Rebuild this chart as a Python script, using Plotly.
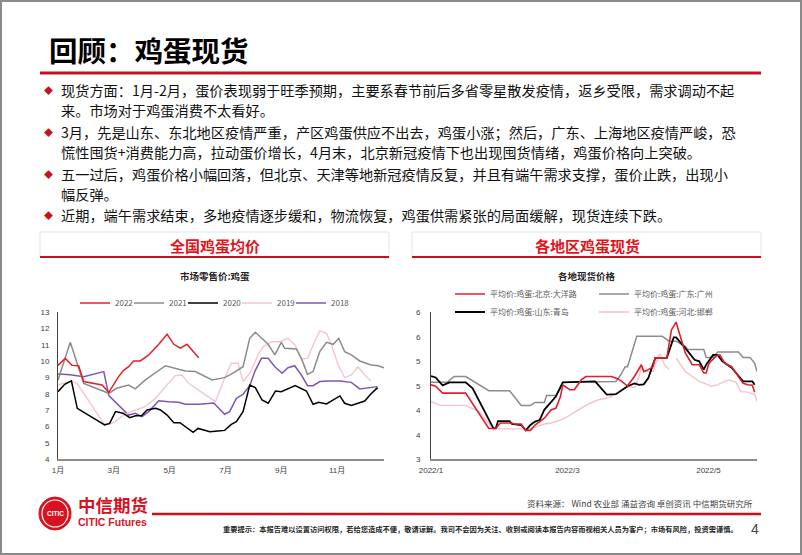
import plotly.graph_objects as go

W, H = 802, 555


def px(x):
    return x / W


def py(y):
    return 1 - y / H


# ---------------- Left chart: 市场零售价:鸡蛋 (x = month position, 1 = 1月初) ----------------
m2022 = [1.00, 1.26, 1.50, 1.74, 1.92, 2.58, 2.82, 3.05, 3.17, 3.35, 3.53, 3.71, 3.95, 4.25, 4.61, 4.91, 5.15, 5.38, 5.62, 6.04]
v2022 = [9.75, 10.18, 9.75, 9.73, 8.76, 8.55, 8.10, 8.76, 9.06, 9.45, 9.67, 10.02, 10.02, 10.39, 11.04, 11.65, 11.04, 10.80, 11.04, 10.22]

m2021 = [1.00, 1.44, 1.92, 2.82, 3.10, 3.53, 3.77, 4.13, 4.85, 5.10, 5.56, 5.92, 6.52, 6.97, 7.27, 7.63, 7.87, 8.07, 8.53, 8.77,
         9.00, 9.12, 9.54, 9.72, 9.94, 10.14, 10.38, 10.62, 10.86, 11.06, 11.27, 11.51, 11.81, 12.22, 12.47, 12.68]
v2021 = [8.86, 11.16, 8.65, 8.04, 8.35, 8.55, 8.31, 8.86, 9.73, 9.61, 9.41, 9.37, 8.86, 9.00, 9.27, 9.67, 11.41, 11.78, 11.04, 10.39,
         11.16, 10.80, 10.76, 10.18, 9.20, 9.37, 10.60, 11.16, 11.04, 11.41, 10.59, 10.39, 10.02, 9.78, 9.73, 9.61]

m2020 = [1.00, 1.24, 1.48, 1.69, 2.67, 2.85, 3.06, 3.33, 3.57, 3.78, 3.99, 4.19, 4.50, 4.67, 4.91, 5.15, 5.37, 5.60, 5.84, 6.02,
         6.44, 6.73, 6.97, 7.21, 7.39, 7.63, 7.87, 8.07, 8.31, 8.53, 8.79, 9.00, 9.50, 9.90, 10.14, 10.34, 10.62, 11.10, 11.27,
         11.51, 11.99, 12.20, 12.45]
v2020 = [8.14, 8.59, 8.80, 7.12, 6.10, 6.20, 6.92, 6.82, 6.55, 6.67, 6.67, 7.02, 7.12, 7.02, 6.71, 6.24, 6.24, 5.93, 5.65, 5.89,
         5.69, 5.73, 5.77, 6.14, 6.31, 6.92, 8.55, 8.39, 7.63, 7.43, 8.18, 8.14, 8.51, 8.18, 7.37, 7.49, 7.39, 7.88, 7.43,
         7.29, 7.57, 7.98, 8.39]

m2019 = [1.00, 1.44, 1.68, 2.64, 2.82, 3.05, 3.35, 3.77, 4.13, 4.49, 4.85, 5.20, 5.44, 5.68, 6.04, 6.40, 6.64, 6.97, 7.21, 7.45,
         7.63, 7.87, 8.17, 8.35, 8.65, 8.94, 9.24, 9.49, 9.72, 9.94, 10.14, 10.38, 10.62, 10.80, 11.04, 11.27, 11.51, 11.75,
         11.99, 12.21]
v2019 = [8.55, 8.80, 8.65, 6.20, 6.14, 6.31, 6.71, 7.02, 7.22, 7.73, 8.45, 9.12, 9.16, 8.65, 8.24, 7.84, 7.53, 8.96, 9.88, 9.88,
         8.76, 9.27, 10.39, 10.90, 11.20, 11.20, 11.41, 11.00, 10.14, 10.18, 11.00, 11.86, 11.71, 11.00, 9.78, 9.00, 9.16, 9.67,
         9.16, 8.80]

m2018 = [1.00, 1.44, 1.92, 2.64, 2.82, 3.17, 3.53, 3.77, 4.01, 4.25, 4.61, 4.97, 5.32, 5.56, 6.04, 6.58, 6.97, 7.15, 7.39, 7.63,
         7.87, 8.05, 8.29, 8.53, 8.77, 9.03, 9.24, 9.48, 9.72, 9.94, 10.14, 10.38, 10.68, 11.10, 11.51, 11.81, 12.22, 12.45]
v2018 = [9.22, 9.18, 9.06, 9.37, 7.90, 7.33, 6.71, 6.82, 6.61, 6.92, 7.59, 7.53, 7.49, 7.37, 7.37, 7.45, 6.76, 6.92, 7.73, 7.98,
         8.51, 9.37, 10.18, 10.18, 9.67, 9.27, 9.61, 9.73, 9.16, 8.51, 8.51, 8.76, 8.80, 8.80, 8.71, 8.31, 8.39, 8.45]

left_tickvals = [1, 3, 5, 7, 9, 11]
left_ticktext = ["1月", "3月", "5月", "7月", "9月", "11月"]

# ---------------- Right chart: 各地现货价格 ----------------
bj_dates = ["2022-01-01", "2022-01-03", "2022-01-06", "2022-01-16", "2022-01-26", "2022-01-29", "2022-01-31", "2022-02-05",
            "2022-02-06", "2022-02-09", "2022-02-11", "2022-02-13", "2022-02-15", "2022-02-19", "2022-02-22", "2022-02-24",
            "2022-02-26", "2022-02-27", "2022-03-02", "2022-03-04", "2022-03-07", "2022-03-09", "2022-03-20", "2022-03-23",
            "2022-03-27", "2022-03-30", "2022-04-02", "2022-04-03", "2022-04-05", "2022-04-07", "2022-04-08", "2022-04-13",
            "2022-04-15", "2022-04-17", "2022-04-18", "2022-04-21", "2022-04-24", "2022-04-27", "2022-04-29", "2022-04-30",
            "2022-05-01", "2022-05-02", "2022-05-05", "2022-05-06", "2022-05-08", "2022-05-11", "2022-05-16", "2022-05-18",
            "2022-05-20", "2022-05-21"]
bj_vals = [4.52, 4.49, 4.35, 4.35, 3.63, 3.63, 3.74, 3.74, 3.72, 3.72, 3.59, 3.59, 3.70, 3.84, 4.01, 4.04, 4.28, 4.52, 4.42, 4.42,
           4.62, 4.69, 4.69, 4.64, 4.50, 4.69, 4.93, 4.79, 4.83, 4.89, 5.07, 5.07, 5.64, 5.80, 5.64, 5.17, 4.93, 4.93, 4.76, 4.76,
           4.93, 5.00, 5.13, 5.13, 4.96, 4.89, 4.55, 4.52, 4.51, 4.37]

gz_dates = ["2022-01-01", "2022-01-08", "2022-01-11", "2022-01-16", "2022-01-26", "2022-02-04", "2022-02-09", "2022-02-13",
            "2022-02-15", "2022-02-19", "2022-02-20", "2022-02-24", "2022-02-27", "2022-03-22", "2022-03-24", "2022-03-26",
            "2022-03-27", "2022-03-31", "2022-04-11", "2022-04-14", "2022-04-17", "2022-04-21", "2022-04-22", "2022-04-29",
            "2022-04-30", "2022-05-03", "2022-05-05", "2022-05-14", "2022-05-16", "2022-05-19", "2022-05-21", "2022-05-22"]
gz_vals = [4.57, 4.57, 4.69, 4.69, 4.40, 4.40, 4.10, 4.10, 4.16, 4.16, 4.30, 4.30, 4.57, 4.59, 4.72, 4.89, 4.89, 5.51, 5.51, 5.41,
           5.41, 5.30, 5.24, 5.24, 5.08, 5.08, 5.19, 5.19, 5.08, 5.08, 4.96, 4.79]

qd_dates = ["2022-01-01", "2022-01-03", "2022-01-06", "2022-01-09", "2022-01-16", "2022-01-19", "2022-01-28", "2022-01-29",
            "2022-01-30", "2022-02-04", "2022-02-05", "2022-02-09", "2022-02-11", "2022-02-13", "2022-02-15", "2022-02-17",
            "2022-02-19", "2022-02-22", "2022-02-24", "2022-02-26", "2022-02-27", "2022-03-13", "2022-03-18", "2022-03-22",
            "2022-03-27", "2022-03-30", "2022-04-01", "2022-04-03", "2022-04-05", "2022-04-08", "2022-04-13", "2022-04-16",
            "2022-04-17", "2022-04-21", "2022-04-25", "2022-04-27", "2022-04-29", "2022-04-30", "2022-05-03", "2022-05-05",
            "2022-05-07", "2022-05-11", "2022-05-16", "2022-05-20", "2022-05-21"]
qd_vals = [4.70, 4.67, 4.51, 4.57, 4.57, 4.45, 3.63, 3.63, 3.78, 3.78, 3.72, 3.70, 3.59, 3.70, 3.77, 3.80, 4.01, 4.18, 4.28, 4.47,
           4.57, 4.59, 4.32, 4.33, 4.49, 4.55, 4.52, 4.53, 4.66, 5.07, 5.07, 5.49, 5.49, 5.27, 5.03, 5.00, 4.83, 4.93, 5.13, 5.13,
           5.00, 4.87, 4.59, 4.59, 4.52]

hd_dates = ["2022-01-01", "2022-01-05", "2022-01-16", "2022-01-22", "2022-01-27", "2022-01-30", "2022-02-09", "2022-02-11",
            "2022-02-15", "2022-02-19", "2022-02-22", "2022-02-26", "2022-03-01", "2022-03-05", "2022-03-09", "2022-03-14",
            "2022-03-19", "2022-03-23", "2022-03-27", "2022-03-30", "2022-04-01", "2022-04-02", "2022-04-03", "2022-04-07",
            "2022-04-09", "2022-04-10", "2022-04-12", "2022-04-14", "2022-04-15", "2022-04-17", "2022-04-21", "2022-04-24",
            "2022-04-27", "2022-05-01", "2022-05-02", "2022-05-05", "2022-05-07", "2022-05-10", "2022-05-13", "2022-05-15",
            "2022-05-18", "2022-05-21", "2022-05-22"]
hd_vals = [4.18, 4.10, 4.10, 3.97, 3.67, 3.62, 3.62, 3.60, 3.65, 3.72, 3.74, 3.80, 3.87, 3.99, 4.10, 4.21, 4.26, 4.37, 4.49, 4.46,
           4.69, 4.89, 4.79, 4.79, 5.07, 5.15, 4.93, 4.83, None, 5.07, 4.79, 4.69, 4.59, 4.52, 4.49, 4.52, 4.57, 4.62, 4.57, 4.38,
           4.37, 4.32, 4.18]

right_tickvals = [3.0, 3.5, 4.0, 4.5, 5.0, 5.5, 6.0]
right_ticktext = ["3", "4", "4", "5", "5", "6", "6"]
right_xtickvals = ["2022-01-01", "2022-03-01", "2022-05-01"]
right_xticktext = ["2022/1", "2022/3", "2022/5"]

CJK = "Noto Sans CJK SC"
RED = "#C8101E"

fig = go.Figure()

left_series = [
    ("2018", m2018, v2018, "#7E57B4", 1.5, 5, 22),
    ("2019", m2019, v2019, "#F4C6CD", 1.4, 4, None),
    ("2020", m2020, v2020, "#000000", 1.5, 3, None),
    ("2021", m2021, v2021, "#8C8C8C", 1.5, 2, None),
    ("2022", m2022, v2022, "#E3212B", 1.5, 1, None),
]
for name, xs, ys, col, lw, rank, lwid in left_series:
    kw = {}
    if lwid:
        kw["legendwidth"] = lwid
    fig.add_trace(go.Scatter(x=xs, y=ys, name=name, mode="lines", line=dict(color=col, width=lw),
                             xaxis="x", yaxis="y", legend="legend", legendrank=rank, hoverinfo="skip", **kw))

right_series = [
    ("平均价:鸡蛋:河北:邯郸", hd_dates, hd_vals, "#F2C3C8", 1.4, "legend3", 4),
    ("平均价:鸡蛋:广东:广州", gz_dates, gz_vals, "#8C8C8C", 1.5, "legend2", 2),
    ("平均价:鸡蛋:山东:青岛", qd_dates, qd_vals, "#000000", 1.8, "legend3", 3),
    ("平均价:鸡蛋:北京:大洋路", bj_dates, bj_vals, "#DC2030", 1.6, "legend2", 1),
]
for name, xs, ys, col, lw, lg, rank in right_series:
    fig.add_trace(go.Scatter(x=xs, y=ys, name=name, mode="lines", line=dict(color=col, width=lw),
                             xaxis="x2", yaxis="y2", legend=lg, legendrank=rank, hoverinfo="skip",
                             connectgaps=False))

tickfont = dict(size=8, color="#404040", family="Liberation Sans, " + CJK)
legfont = dict(size=8, color="#595959", family=CJK)

fig.update_layout(
    width=W, height=H,
    margin=dict(l=0, r=0, t=0, b=0, autoexpand=False),
    paper_bgcolor="white", plot_bgcolor="rgba(0,0,0,0)",
    font=dict(family=CJK, color="#000000"),
    showlegend=True,
    xaxis=dict(domain=[px(58), px(384)], range=[1, 12.68], tickvals=left_tickvals, ticktext=left_ticktext,
               showline=True, linecolor="#8C8C8C", linewidth=2, showgrid=False, zeroline=False, ticks="",
               tickfont=tickfont, anchor="y", ticklabelstandoff=2),
    yaxis=dict(domain=[py(459.3), py(312.3)], range=[4, 13], tick0=4, dtick=1,
               showline=True, linecolor="#404040", linewidth=1, showgrid=False, zeroline=False, ticks="",
               tickfont=tickfont, anchor="x", ticklabelstandoff=6),
    xaxis2=dict(domain=[px(431), px(757)], type="date", range=["2022-01-01", "2022-05-22"],
                tickvals=right_xtickvals, ticktext=right_xticktext,
                showline=True, linecolor="#8C8C8C", linewidth=2, showgrid=False, zeroline=False, ticks="",
                tickfont=tickfont, anchor="y2", ticklabelstandoff=2),
    yaxis2=dict(domain=[py(459.3), py(312.3)], range=[3, 6], tickvals=right_tickvals, ticktext=right_ticktext,
                showline=True, linecolor="#404040", linewidth=1, showgrid=False, zeroline=False, ticks="",
                tickfont=tickfont, anchor="x2", ticklabelstandoff=8),
    legend=dict(orientation="h", x=px(75), y=py(288.5), xanchor="left", yanchor="top",
                bgcolor="rgba(0,0,0,0)", font=legfont, entrywidth=9, itemwidth=30),
    legend2=dict(orientation="h", x=px(450), y=py(279.5), xanchor="left", yanchor="top",
                 bgcolor="rgba(0,0,0,0)", font=legfont, entrywidth=99, itemwidth=30),
    legend3=dict(orientation="h", x=px(450), y=py(297.5), xanchor="left", yanchor="top",
                 bgcolor="rgba(0,0,0,0)", font=legfont, entrywidth=99, itemwidth=30),
)

shapes = []


def line_px(x0, y0, x1, y1, color, width):
    shapes.append(dict(type="line", xref="paper", yref="paper", x0=px(x0), y0=py(y0), x1=px(x1), y1=py(y1),
                       line=dict(color=color, width=width), layer="above"))


def rect_px(x0, y0, x1, y1, color, width, fill="rgba(0,0,0,0)"):
    shapes.append(dict(type="rect", xref="paper", yref="paper", x0=px(x0), y0=py(y0), x1=px(x1), y1=py(y1),
                       line=dict(color=color, width=width), fillcolor=fill, layer="below"))


# page border
rect_px(1, 1, 801, 554, "#8A8A8A", 2)
# title underline
line_px(40, 73, 761, 73, RED, 3)
# panel header boxes
rect_px(40, 232, 389, 257, "#E3E3E3", 1)
line_px(40, 257, 389, 257, RED, 2)
rect_px(412, 232, 761, 257, "#E3E3E3", 1)
line_px(412, 257, 761, 257, RED, 2)
# footer line
line_px(152, 514, 761, 514, RED, 2.5)
# logo
shapes.append(dict(type="circle", xref="paper", yref="paper", x0=px(39), x1=px(71), y0=py(530), y1=py(497),
                   fillcolor="#D9121F", line=dict(color="#D9121F", width=1), layer="above"))
shapes.append(dict(type="circle", xref="paper", yref="paper", x0=px(42), x1=px(68), y0=py(527), y1=py(500),
                   fillcolor="rgba(0,0,0,0)", line=dict(color="white", width=1.2), layer="above"))
fig.update_layout(shapes=shapes)

ann = []


def text_px(x, y, s, size, color="#000000", xanchor="left", family=CJK, yanchor="middle"):
    ann.append(dict(x=px(x), y=py(y), xref="paper", yref="paper", text=s, showarrow=False,
                    xanchor=xanchor, yanchor=yanchor, font=dict(size=size, color=color, family=family)))


text_px(47, 50, "<b>回顾：鸡蛋现货</b>", 28.5, "#000000")

bullet_lines = [
    (90, True, "现货方面：1月-2月，蛋价表现弱于旺季预期，主要系春节前后多省零星散发疫情，返乡受限，需求调动不起"),
    (110, False, "来。市场对于鸡蛋消费不太看好。"),
    (132, True, "3月，先是山东、东北地区疫情严重，产区鸡蛋供应不出去，鸡蛋小涨；然后，广东、上海地区疫情严峻，恐"),
    (152, False, "慌性囤货+消费能力高，拉动蛋价增长，4月末，北京新冠疫情下也出现囤货情绪，鸡蛋价格向上突破。"),
    (174, True, "五一过后，鸡蛋价格小幅回落，但北京、天津等地新冠疫情反复，并且有端午需求支撑，蛋价止跌，出现小"),
    (194, False, "幅反弹。"),
    (215, True, "近期，端午需求结束，多地疫情逐步缓和，物流恢复，鸡蛋供需紧张的局面缓解，现货连续下跌。"),
]
for y, has_bullet, s in bullet_lines:
    if has_bullet:
        text_px(48, y, "◆", 9, "#C8101E", xanchor="center")
    text_px(59, y, s, 14.2, "#111111")

text_px(215, 245.5, "<b>全国鸡蛋均价</b>", 15, "#E3131B", xanchor="center")
text_px(587, 245.5, "<b>各地区鸡蛋现货</b>", 15, "#E3131B", xanchor="center")
text_px(215, 276, "<b>市场零售价:鸡蛋</b>", 9.5, "#262626", xanchor="center")
text_px(587, 276, "<b>各地现货价格</b>", 9.5, "#262626", xanchor="center")

# footer
text_px(76, 504, "<b>中信期货</b>", 17.5, "#D9121F")
text_px(76, 522, "<b>CITIC Futures</b>", 10.5, "#D9121F", family="Liberation Sans")
text_px(55, 513.5, "<b>CITIC</b>", 6.5, "white", xanchor="center", family="Liberation Sans Narrow, Liberation Sans")
text_px(755, 503, "资料来源： Wind 农业部 涌益咨询 卓创资讯 中信期货研究所", 8.5, "#404040", xanchor="right")
text_px(221, 529, "<b>重要提示：本报告难以设置访问权限，若给您造成不便，敬请谅解。我司不会因为关注、收到或阅读本报告内容而视相关人员为客户；市场有风险，投资需谨慎。</b>",
        7.25, "#262626")
text_px(755, 529, "4", 14, "#404040", xanchor="center", family="Liberation Sans")

fig.update_layout(annotations=ann)

fig.write_html("out.html", config={"displayModeBar": False})
